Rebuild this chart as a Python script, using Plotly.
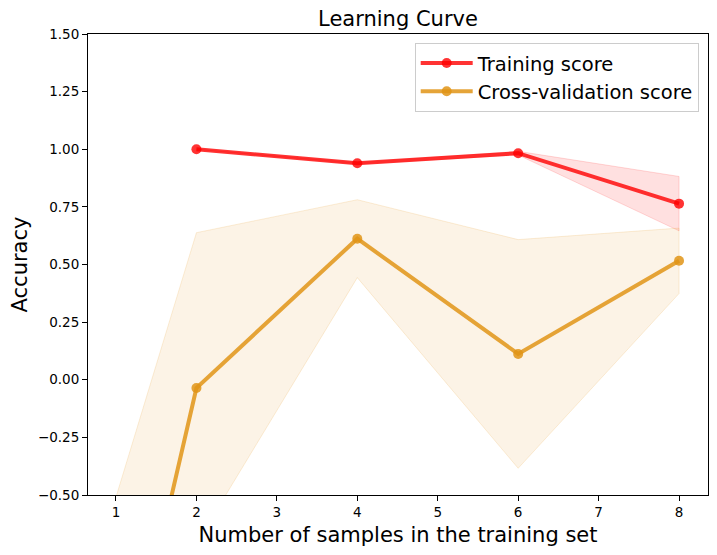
import plotly.graph_objects as go

train_sizes = [1, 2, 4, 6, 8]
train_mean = [None, 1.000, 0.939, 0.983, 0.764]
train_std = [None, 0.000, 0.003, 0.008, 0.118]
cv_mean = [-1.547, -0.036, 0.612, 0.112, 0.516]
cv_std = [1.038, 0.674, 0.169, 0.496, 0.142]

y_ticks = [-0.5, -0.25, 0.0, 0.25, 0.5, 0.75, 1.0, 1.25, 1.5]
x_ticks = [1, 2, 3, 4, 5, 6, 7, 8]

RED = "rgba(255,0,0,0.8)"
ORANGE = "rgba(224,148,22,0.85)"


def band(xs, mean, std):
    pts = [(x, m, s) for x, m, s in zip(xs, mean, std) if m is not None]
    px = [p[0] for p in pts]
    up = [p[1] + p[2] for p in pts]
    lo = [p[1] - p[2] for p in pts]
    return px + px[::-1], up + lo[::-1]


fig = go.Figure()

bx, by = band(train_sizes, train_mean, train_std)
fig.add_trace(go.Scatter(x=bx, y=by, fill="toself", mode="lines",
                         fillcolor="rgba(255,0,0,0.12)",
                         line=dict(color="rgba(255,0,0,0.15)", width=1),
                         showlegend=False, hoverinfo="skip"))
bx, by = band(train_sizes, cv_mean, cv_std)
fig.add_trace(go.Scatter(x=bx, y=by, fill="toself", mode="lines",
                         fillcolor="rgba(232,160,50,0.12)",
                         line=dict(color="rgba(232,160,50,0.18)", width=1),
                         showlegend=False, hoverinfo="skip"))

fig.add_trace(go.Scatter(x=train_sizes, y=train_mean, mode="lines+markers",
                         name="Training score",
                         line=dict(color=RED, width=4),
                         marker=dict(color=RED, size=10),
                         cliponaxis=True))
fig.add_trace(go.Scatter(x=train_sizes, y=cv_mean, mode="lines+markers",
                         name="Cross-validation score",
                         line=dict(color=ORANGE, width=4),
                         marker=dict(color=ORANGE, size=10),
                         cliponaxis=True))

fig.update_layout(
    width=717, height=555,
    margin=dict(l=88, r=9, t=34, b=60, autoexpand=False),
    paper_bgcolor="white", plot_bgcolor="white",
    font=dict(family="DejaVu Sans", color="black", size=13),
    title=dict(text="Learning Curve", x=0.5, xref="paper", xanchor="center",
               y=1 - 19 / 555, yanchor="middle",
               font=dict(size=21, family="DejaVu Sans", color="black")),
    legend=dict(x=0.985, y=0.981, xanchor="right", yanchor="top",
                bordercolor="rgb(204,204,204)", borderwidth=1,
                bgcolor="rgba(255,255,255,0.8)",
                font=dict(size=19.5, family="DejaVu Sans", color="black"),
                itemwidth=52, tracegroupgap=2),
    showlegend=True,
)
fig.update_xaxes(range=[0.652, 8.36], tickvals=x_ticks, automargin=False,
                 ticks="outside", ticklen=5, tickcolor="black",
                 showline=True, linecolor="black", linewidth=1, mirror=True,
                 showgrid=False, zeroline=False,
                 tickfont=dict(size=13.5),
                 title=dict(text="Number of samples in the training set",
                            font=dict(size=21), standoff=8))
fig.update_yaxes(range=[-0.5, 1.5], tickvals=y_ticks, automargin=False,
                 tickformat=".2f",
                 ticks="outside", ticklen=5, tickcolor="black",
                 showline=True, linecolor="black", linewidth=1, mirror=True,
                 showgrid=False, zeroline=False,
                 tickfont=dict(size=13.5),
                 title=dict(text="Accuracy", font=dict(size=21), standoff=4))

fig.write_html("out.html",
               config={"displayModeBar": False},
               post_script="document.body.style.margin='0';document.body.style.padding='0';")
